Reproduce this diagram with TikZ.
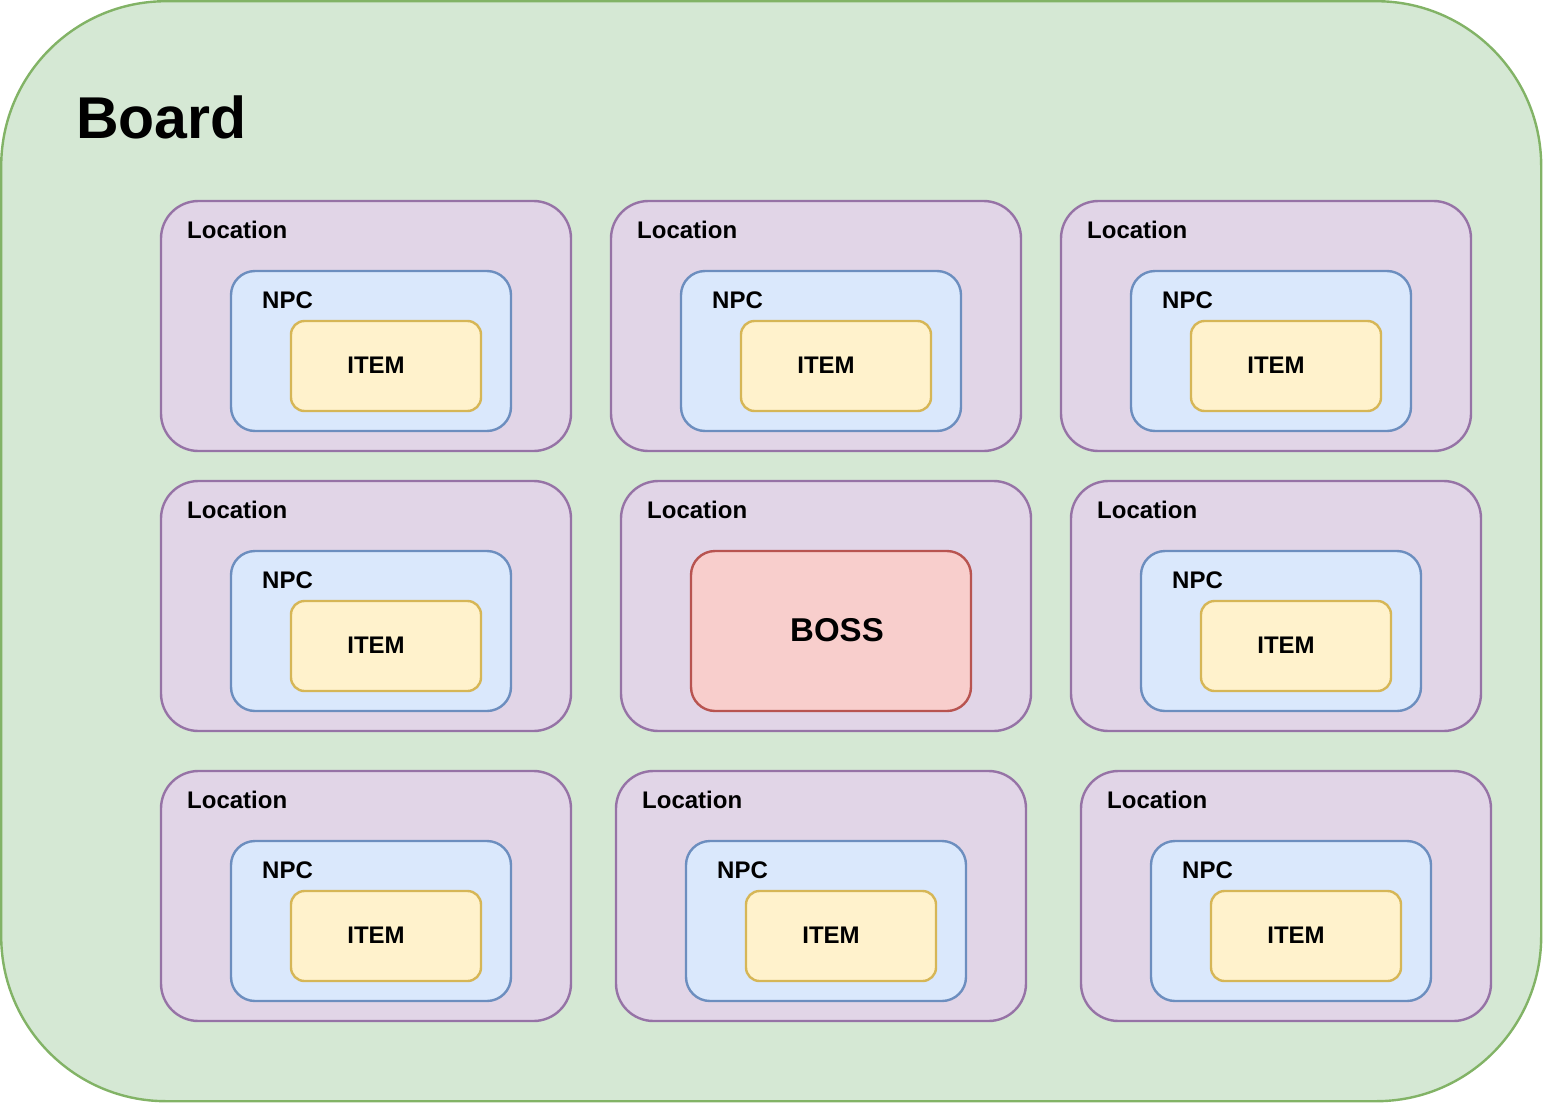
\documentclass[tikz,border=0pt]{standalone}
\usepackage{fontspec}
\setmainfont{Liberation Sans}
\definecolor{boardF}{HTML}{D5E8D4}\definecolor{boardD}{HTML}{82B366}
\definecolor{locF}{HTML}{E1D5E7}\definecolor{locD}{HTML}{9673A6}
\definecolor{npcF}{HTML}{DAE8FC}\definecolor{npcD}{HTML}{6C8EBF}
\definecolor{itemF}{HTML}{FFF2CC}\definecolor{itemD}{HTML}{D6B656}
\definecolor{bossF}{HTML}{F8CECC}\definecolor{bossD}{HTML}{B85450}
\begin{document}
\begin{tikzpicture}[x=1pt,y=-1pt,line width=2.4pt,
  box/.style={draw,rectangle,inner sep=0pt,outer sep=0pt,anchor=north west},
  boardbox/.style={box,fill=boardF,draw=boardD,minimum width=1540pt,minimum height=1100pt,rounded corners=165pt},
  locbox/.style={box,fill=locF,draw=locD,minimum width=410pt,minimum height=250pt,rounded corners=37.5pt},
  npcbox/.style={box,fill=npcF,draw=npcD,minimum width=280pt,minimum height=160pt,rounded corners=24pt},
  itembox/.style={box,fill=itemF,draw=itemD,minimum width=190pt,minimum height=90pt,rounded corners=13.5pt},
  bossbox/.style={box,fill=bossF,draw=bossD,minimum width=280pt,minimum height=160pt,rounded corners=24pt},
  lbl/.style={anchor=base west,inner sep=0pt,font=\fontsize{24}{28}\selectfont\bfseries},
  ctr/.style={anchor=base,inner sep=0pt,font=\fontsize{24}{28}\selectfont\bfseries}]
\useasboundingbox (0,0) rectangle (1543,1103);
\node[boardbox] (board) at (1.2,1.2) {};
\node[anchor=base west,inner sep=0pt,font=\fontsize{59}{64}\selectfont\bfseries] (boardlbl) at (75,138) {Board};
\foreach \x/\y/\n in {161/201/a,611/201/b,1061/201/c,161/481/d,1071/481/f,161/771/g,616/771/h,1081/771/i}{
  \node[locbox] (loc\n) at (\x,\y) {};
  \node[lbl] (loclbl\n) at ([shift={(25,37.5)}]loc\n.north west) {Location};
  \node[npcbox] (npc\n) at ([shift={(70,70)}]loc\n.north west) {};
  \node[lbl] (npclbl\n) at ([shift={(30,37)}]npc\n.north west) {NPC};
  \node[itembox] (item\n) at ([shift={(60,50)}]npc\n.north west) {};
  \node[ctr] (itemlbl\n) at ([shift={(85,52)}]item\n.north west) {ITEM};
}
\node[locbox] (loce) at (621,481) {};
\node[lbl] (loclble) at ([shift={(25,37.5)}]loce.north west) {Location};
\node[bossbox] (boss) at ([shift={(70,70)}]loce.north west) {};
\node[anchor=base,inner sep=0pt,font=\fontsize{33}{38}\selectfont\bfseries] (bosslbl) at ([shift={(146,90)}]boss.north west) {BOSS};
\end{tikzpicture}
\end{document}
